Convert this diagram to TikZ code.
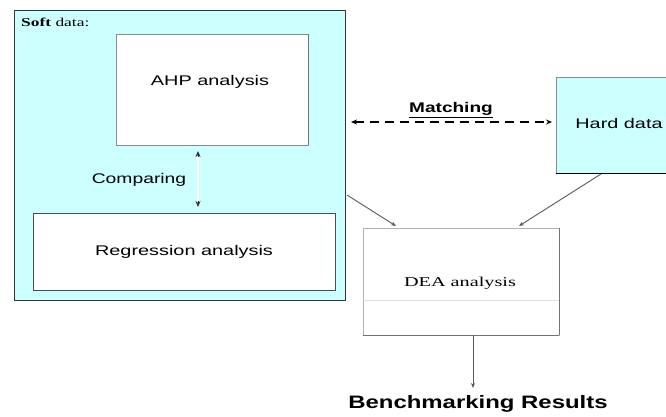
\documentclass[tikz,border=0pt]{standalone}
\usepackage{fontspec}
\setmainfont{Liberation Serif}
\setsansfont{Liberation Sans}
\usetikzlibrary{arrows.meta}
\definecolor{softcyan}{HTML}{CCFFFF}
\definecolor{edgegray}{HTML}{8A8A8A}
\newcommand{\widetext}[2][1.42]{\scalebox{#1}[1]{#2}}
\tikzset{
  panel/.style={draw=black!80, line width=0.8pt, fill=softcyan, inner sep=0pt},
  whitebox/.style={draw=edgegray, line width=0.8pt, fill=white, inner sep=0pt},
  sanslabel/.style={font=\sffamily\fontsize{14}{16}\selectfont, inner sep=0pt},
  seriflabel/.style={font=\rmfamily\fontsize{13.5}{16}\selectfont, inner sep=0pt},
  tip/.style={-{Stealth[length=5pt,width=4pt]}},
  flow/.style={tip, draw=black!65, line width=0.9pt},
}
\begin{document}
\begin{tikzpicture}[x=1pt,y=-1pt]
\useasboundingbox (0,0) rectangle (666,417);

% soft data panel with its two analysis boxes
\node[panel, minimum width=331pt, minimum height=290pt] (soft) at (179.5,155) {};
\node[seriflabel, anchor=west, font=\rmfamily\fontsize{12}{14}\selectfont] (softlbl) at (21,22) {\widetext[1.45]{\textbf{Soft} data:}};
\node[whitebox, minimum width=192pt, minimum height=111pt] (ahp) at (212,89.5) {};
\draw[black!55, line width=1.2pt] (ahp.north east) -- (ahp.south east);
\node[sanslabel] (ahptxt) at (210,82) {\widetext{AHP analysis}};
\node[whitebox, draw=black!70, minimum width=302pt, minimum height=77pt] (reg) at (184,251.5) {};
\node[sanslabel] (regtxt) at (184,252) {\widetext{Regression analysis}};

% comparing link between AHP and regression: solid heads, double shaft
\coordinate (cmptop) at (198,151);
\coordinate (cmpbot) at (198,207);
\draw[{Stealth[length=6pt,width=5pt]}-{Stealth[length=6pt,width=5pt]}, black!80, line width=0.6pt] (cmptop) -- (cmpbot);
\draw[black!70, double=white, double distance=1.2pt, line width=0.5pt, shorten <=6pt, shorten >=6pt] (cmptop) -- (cmpbot);
\node[sanslabel] (cmptxt) at (139,180) {\widetext[1.38]{Comparing}};

% hard data panel
\node[panel, draw=edgegray, minimum width=124pt, minimum height=96pt] (hard) at (618,125) {};
\draw[black, line width=1.6pt] (hard.south west) -- (hard.south east);
\node[sanslabel] (hardtxt) at (619,123) {\widetext{Hard data}};

% matching link
\coordinate (matchL) at (351,122);
\coordinate (matchR) at (552,122);
\draw[{Stealth[length=6pt,width=5pt]}-{Stealth[length=6pt,width=5pt]}, black, line width=1.2pt, dash pattern=on 9pt off 6pt] (matchL) -- (matchR);
\node[sanslabel, font=\sffamily\bfseries\fontsize{14}{16}\selectfont] (matchtxt) at (451,110) {\widetext[1.36]{\underline{Matching}}};

% DEA box
\node[whitebox, draw=black!30, minimum width=196pt, minimum height=107pt] (dea) at (461,281.5) {};
\draw[black!55, line width=1.2pt] (dea.north east) -- (dea.south east);
\draw[black!55, line width=1pt] (dea.south west) -- (dea.south east);
\draw[black!12, line width=0.8pt] (dea.west |- 0,300) -- (dea.east |- 0,300);
\node[seriflabel] (deatxt) at (460,283) {\widetext[1.5]{DEA analysis}};

% flows into DEA
\coordinate (softout) at (347,195);
\coordinate (deainL) at (396,226);
\coordinate (hardout) at (601,174);
\coordinate (deainR) at (519,226);
\draw[flow] (softout) -- (deainL);
\draw[flow] (hardout) -- (deainR);

% result
\node[sanslabel, font=\sffamily\bfseries\fontsize{18}{20}\selectfont] (bench) at (478,404) {\widetext[1.33]{Benchmarking Results}};
\draw[flow, line width=0.8pt] (dea.south -| 473,0) -- (473,388);
\end{tikzpicture}
\end{document}
